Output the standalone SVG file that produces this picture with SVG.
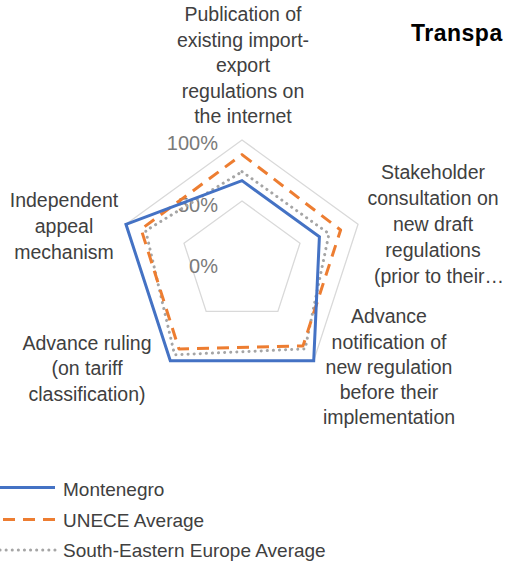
<svg xmlns="http://www.w3.org/2000/svg" width="507" height="562" viewBox="0 0 507 562">
<style>
.cat{font-family:"Liberation Sans",Arial,sans-serif;font-size:19.5px;fill:#404040;text-anchor:middle}
.ax{font-family:"Liberation Sans",Arial,sans-serif;font-size:20px;fill:#7a7a7a;text-anchor:end}
.leg{font-family:"Liberation Sans",Arial,sans-serif;font-size:19px;fill:#404040}
.title{font-family:"Liberation Sans",Arial,sans-serif;font-size:23px;font-weight:bold;fill:#000;letter-spacing:0.5px}
.grid{fill:none;stroke:#d9d9d9;stroke-width:1.3}
.mon{fill:none;stroke:#4472c4;stroke-width:3;stroke-linejoin:miter}
.une{fill:none;stroke:#ed7d31;stroke-width:3;stroke-dasharray:12 8;stroke-linejoin:round}
.see{fill:none;stroke:#a5a5a5;stroke-width:3;stroke-dasharray:0.1 6;stroke-linecap:round}
</style>
<rect width="507" height="562" fill="#ffffff"/>
<text class="title" x="411" y="41">Transpa</text>
<g id="grid">
<polygon class="grid" points="242,201 300,243.15 277.86,311.35 206.14,311.35 184,243.15"/>
<polygon class="grid" points="242,140 358.04,224.3 313.71,360.7 170.29,360.7 125.96,224.3"/>
</g>
<g id="axis-labels">
<text class="ax" x="218" y="150">100%</text>
<text class="ax" x="218" y="212">50%</text>
<text class="ax" x="218" y="273">0%</text>
</g>
<g id="series">
<polygon id="see-average" class="see" points="242,171.7 329,233.7 305.1,348.9 174.6,354.8 145.7,230.7"/>
<polygon id="unece-average" class="une" points="242,154.6 340.6,230 303,345.9 178.9,348.9 141.1,229.2"/>
<polygon id="montenegro" class="mon" points="242,180.6 319.4,236.85 313.71,360.7 170.29,360.7 125.96,224.3"/>
</g>
<g id="label-publication">
<text class="cat" x="243" y="21">Publication of</text>
<text class="cat" x="243" y="47">existing import-</text>
<text class="cat" x="243" y="72">export</text>
<text class="cat" x="243" y="98">regulations on</text>
<text class="cat" x="243" y="123">the internet</text>
</g>
<g id="label-stakeholder">
<text class="cat" x="433" y="179">Stakeholder</text>
<text class="cat" x="433" y="205">consultation on</text>
<text class="cat" x="433" y="231">new draft</text>
<text class="cat" x="433" y="257">regulations</text>
<text class="cat" x="439" y="283">(prior to their…</text>
</g>
<g id="label-notification">
<text class="cat" x="389" y="323">Advance</text>
<text class="cat" x="389" y="349">notification of</text>
<text class="cat" x="389" y="374">new regulation</text>
<text class="cat" x="389" y="399">before their</text>
<text class="cat" x="389" y="424">implementation</text>
</g>
<g id="label-ruling">
<text class="cat" x="87" y="350">Advance ruling</text>
<text class="cat" x="87" y="375">(on tariff</text>
<text class="cat" x="87" y="401">classification)</text>
</g>
<g id="label-appeal">
<text class="cat" x="64" y="207">Independent</text>
<text class="cat" x="64" y="233">appeal</text>
<text class="cat" x="64" y="259">mechanism</text>
</g>
<g id="legend">
<line class="mon" x1="0" y1="487.5" x2="55" y2="487.5"/>
<text class="leg" x="63" y="496">Montenegro</text>
<line class="une" x1="55" y1="519.5" x2="0" y2="519.5"/>
<text class="leg" x="63" y="527">UNECE Average</text>
<line class="see" x1="55" y1="550" x2="0" y2="550"/>
<text class="leg" x="63" y="557">South-Eastern Europe Average</text>
</g>
</svg>
